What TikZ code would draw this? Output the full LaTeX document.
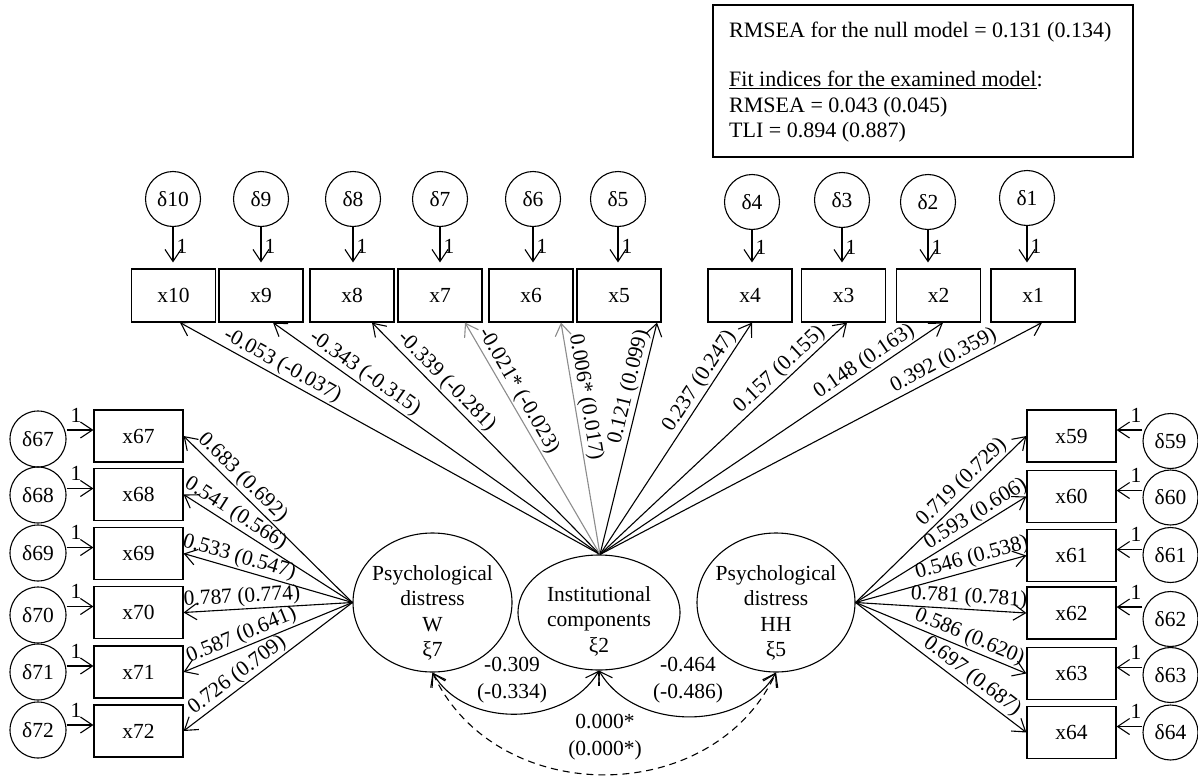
\documentclass[tikz,border=0pt]{standalone}
\usepackage{fontspec}
\setmainfont{Liberation Serif}
\usetikzlibrary{arrows.meta,shapes.geometric}
\begin{document}
\begin{tikzpicture}[x=1pt,y=-1pt,
  >={Straight Barb[length=12pt,width=16pt]},
  every node/.style={font=\fontsize{21.5}{25.5}\selectfont},
  obs/.style={draw, line width=1.2pt, minimum width=84pt, minimum height=53pt, inner sep=0pt},
  obsside/.style={obs, minimum width=89pt, minimum height=52pt},
  err/.style={draw, circle, line width=1.1pt, minimum size=55pt, inner sep=0pt},
  lat/.style={draw, ellipse, line width=1.1pt, inner sep=0pt},
  ld/.style={line width=1.1pt},
  faint/.style={ld, draw=black!45},
  lbl/.style={sloped, above, inner sep=1.5pt},
  one/.style={inner sep=0pt},
  fit/.style={anchor=west, inner sep=0pt, font=\fontsize{22}{26}\selectfont},
  cov/.style={align=center, font=\fontsize{21.5}{27}\selectfont},
]
\useasboundingbox (0,0) rectangle (1198,776);

% fit summary
\node[draw, line width=1.1pt, minimum width=420pt, minimum height=152pt, inner sep=0pt] (fitbox) at (923,81) {};
\node[fit] (fit1) at (729,32) {RMSEA for the null model = 0.131 (0.134)};
\node[fit] (fit2) at (729,80) {\underline{Fit indices for the examined model}:};
\node[fit] (fit3) at (729,107) {RMSEA = 0.043 (0.045)};
\node[fit] (fit4) at (729,132) {TLI = 0.894 (0.887)};

% latent variables
\node[lat, minimum width=159pt, minimum height=139pt] (w) at (432.5,602.5) {};
\node[lat, minimum width=162pt, minimum height=115pt] (ic) at (599,612.5) {};
\node[lat, minimum width=158pt, minimum height=139pt] (hh) at (776,602.5) {};
\node[align=center, inner sep=0pt] (wtxt) at (432.5,613) {Psychological\\distress\\W\\ξ7};
\node[align=center, inner sep=0pt] (ictxt) at (599,621) {Institutional\\components\\ξ2};
\node[align=center, inner sep=0pt] (hhtxt) at (776,613) {Psychological\\distress\\HH\\ξ5};
\coordinate (ictop) at ([xshift=1pt]ic.north);

% institutional indicators with their errors
\foreach \n/\cx/\dx/\dy in {10/173.5/173/199, 9/261/261/199, 8/352/353/199, 7/440/440/199, 6/531/533/199,
                            5/619/618/199, 4/750/752/202, 3/843.5/842/200, 2/938.5/928/202, 1/1033/1027/198}{
  \node[obs] (x\n) at (\cx,295.5) {x\n};
  \node[err] (d\n) at (\dx,\dy) {δ\n};
  \draw[ld,->] (d\n.south) -- ([yshift=6pt]d\n.south |- x\n.north) node[pos=0.55, right=3pt, one] {1};
}

% W indicators
\foreach \n/\cy/\ey in {67/436/439, 68/494.5/495, 69/553.5/553, 70/612.5/615, 71/672/672, 72/731/730}{
  \node[obsside] (x\n) at (138.5,\cy) {x\n};
  \node[err, minimum size=56pt] (d\n) at (38,\ey) {δ\n};
  \draw[ld,->] ([yshift=6pt]d\n.east |- x\n.west) -- ([yshift=6pt]x\n.west) node[pos=0.35, above=7pt, one] {1};
}

% HH indicators
\foreach \n/\cy/\ey in {59/436/441, 60/496.5/497.5, 61/555.5/555, 62/613/619, 63/673.5/675, 64/732.5/732.5}{
  \node[obsside] (x\n) at (1071.5,\cy) {x\n};
  \node[err] (d\n) at (1170.5,\ey) {δ\n};
  \draw[ld,->] ([yshift=6pt]d\n.west |- x\n.east) -- ([yshift=6pt]x\n.east) node[pos=0.25, above=7pt, one] {1};
}

% loadings of the institutional components
\draw[ld,<-]    ([xshift=6.5pt]x10.south) -- node[lbl,pos=0.23] {-0.053 (-0.037)} (ictop);
\draw[ld,<-]    ([xshift=12pt]x9.south)   -- node[lbl,pos=0.26] {-0.343 (-0.315)} (ictop);
\draw[ld,<-]    ([xshift=20pt]x8.south)   -- node[lbl,pos=0.29] {-0.339 (-0.281)} (ictop);
\draw[faint,<-] ([xshift=25pt]x7.south)   -- node[lbl,pos=0.32] {-0.021* (-0.023)} (ictop);
\draw[faint,<-] ([xshift=30pt]x6.south)   -- node[lbl,pos=0.33] {0.006* (0.017)} (ictop);
\draw[ld,->] (ictop) -- node[lbl,pos=0.71] {0.121 (0.099)} ([xshift=38pt]x5.south);
\draw[ld,->] (ictop) -- node[lbl,pos=0.72] {0.237 (0.247)} ([xshift=2pt]x4.south);
\draw[ld,->] (ictop) -- node[lbl,pos=0.76] {0.157 (0.155)} ([xshift=3.5pt]x3.south);
\draw[ld,->] (ictop) -- node[lbl,pos=0.79] {0.148 (0.163)} ([xshift=4.5pt]x2.south);
\draw[ld,->] (ictop) -- node[lbl,pos=0.79] {0.392 (0.359)} ([xshift=9pt]x1.south);

% loadings of W
\draw[ld,<-] (x67.east) -- node[lbl,pos=0.30] {0.683 (0.692)} (w.west);
\draw[ld,<-] (x68.east) -- node[lbl,pos=0.27] {0.541 (0.566)} (w.west);
\draw[ld,<-] (x69.east) -- node[lbl,pos=0.31] {0.533 (0.547)} (w.west);
\draw[ld,<-] (x70.east) -- node[lbl,pos=0.35] {0.787 (0.774)} (w.west);
\draw[ld,<-] (x71.east) -- node[lbl,pos=0.37] {0.587 (0.641)} (w.west);
\draw[ld,<-] (x72.east) -- node[lbl,pos=0.36] {0.726 (0.709)} (w.west);

% loadings of HH
\draw[ld,->] (hh.east) -- node[lbl,pos=0.67] {0.719 (0.729)} (x59.west);
\draw[ld,->] (hh.east) -- node[lbl,pos=0.74] {0.593 (0.606)} (x60.west);
\draw[ld,->] (hh.east) -- node[lbl,pos=0.70] {0.546 (0.538)} (x61.west);
\draw[ld,->] (hh.east) -- node[lbl,pos=0.66] {0.781 (0.781)} (x62.west);
\draw[ld,->] (hh.east) -- node[lbl,pos=0.64] {0.586 (0.620)} (x63.west);
\draw[ld,->] (hh.east) -- node[lbl,pos=0.64] {0.697 (0.687)} (x64.west);

% covariances
\draw[ld,<->] (w.south) to[out=-60,in=-120] (ic.south);
\draw[ld,<->] (ic.south) to[out=-60,in=-120] (hh.south);
\draw[ld,<->,dash pattern=on 7pt off 5pt] (w.south) to[out=-65,in=-115,looseness=1.12] (hh.south);
\node[cov] (c1) at (512,680) {-0.309\\(-0.334)};
\node[cov] (c2) at (688,680) {-0.464\\(-0.486)};
\node[cov] (c3) at (605,737) {0.000*\\(0.000*)};
\end{tikzpicture}
\end{document}
